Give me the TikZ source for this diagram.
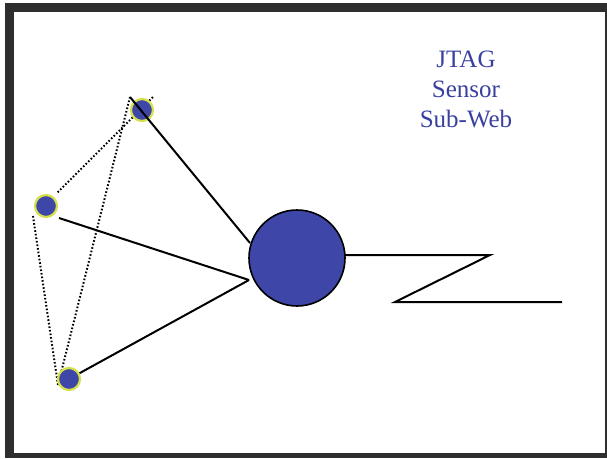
\documentclass[tikz,border=0pt]{standalone}
\usepackage{fontspec}
\setmainfont{Liberation Serif}
\definecolor{nodeblue}{HTML}{3E47A8}
\definecolor{glow}{HTML}{D6E04A}
\definecolor{framegray}{HTML}{2E2E2E}
\definecolor{textblue}{HTML}{3A40A0}
\tikzset{
  sensor/.style={circle, fill=nodeblue, draw=glow, line width=2.2pt, minimum size=22pt, inner sep=0pt},
  hub/.style={circle, fill=nodeblue, draw=black, line width=1.6pt, minimum size=96pt, inner sep=0pt},
  link/.style={draw=black, line width=2pt},
  dotlink/.style={draw=black, line width=2pt, dash pattern=on 1.6pt off 2pt},
  titletext/.style={text=textblue, font=\fontsize{25}{30}\selectfont, align=center}
}
\begin{document}
\begin{tikzpicture}[x=1pt,y=-1pt]
\useasboundingbox (0,0) rectangle (607,458);
\fill[white] (0,0) rectangle (607,458);
\fill[framegray] (5,3) rectangle (607,458);
\fill[white] (14,12) rectangle (605,453);
% coordinates
\coordinate (tA) at (130,97);
\coordinate (tB) at (153,97);
\coordinate (lT) at (57,193);
\coordinate (lB) at (33,216);
\coordinate (lR) at (59,218);
\coordinate (bC) at (58,385);
\coordinate (hubL1) at (250,243);
\coordinate (hubL2) at (249,280);
\coordinate (hubR) at (345,255);
\coordinate (z1) at (490,255);
\coordinate (z2) at (395,302);
\coordinate (z3) at (562,302);
% dotted links
\draw[dotlink] (tB) -- (lT);
\draw[dotlink] (lB) -- (bC);
\draw[dotlink] (tA) -- (bC);
% nodes
\node[sensor] (top) at (142,110) {};
\node[sensor] (left) at (46,206) {};
\node[sensor] (bottom) at (69,379) {};
\node[hub] (hub) at (297,258) {};
% solid links
\draw[link] (tA) -- (hubL1);
\draw[link] (lR) -- (hubL2);
\draw[link] (bottom) -- (hubL2);
\draw[link] (hubR) -- (z1) -- (z2) -- (z3);
% label
\node[titletext] (title) at (466,89) {JTAG\\Sensor\\Sub-Web};
\end{tikzpicture}
\end{document}
